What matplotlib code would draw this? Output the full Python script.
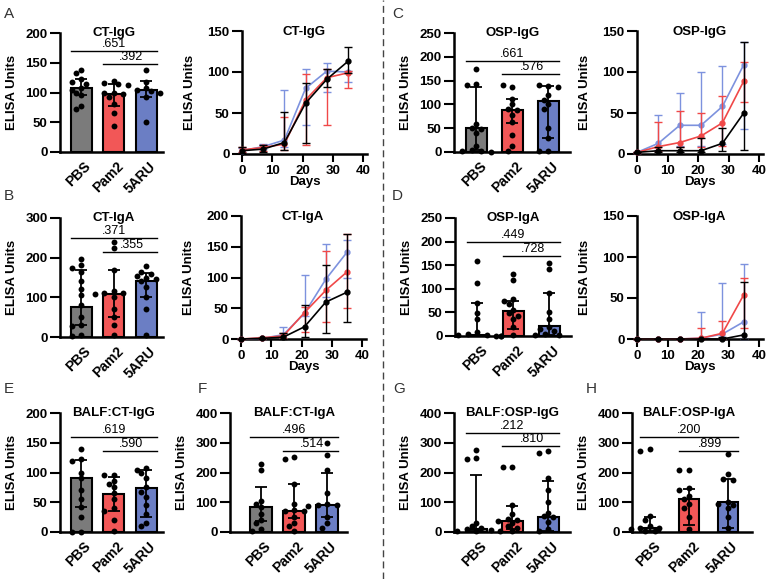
import numpy as np
import matplotlib.pyplot as plt
from matplotlib.lines import Line2D

plt.rcParams['font.family'] = ['Liberation Sans', 'DejaVu Sans']
plt.rcParams['font.size'] = 9

W, H = 770, 579

groups = ['PBS', 'Pam2', '5ARU']
bar_colors = ['#7b7b7b', '#f25757', '#6b7ec4']
line_colors = ['black', '#f04848', '#7d92de']
days = [0, 7, 14, 21, 28, 35]

# ---- bar panels: dots, median, IQR, p values ----
a_pts = [[138, 133, 122, 118, 115, 108, 105, 100, 95, 78, 72],
         [120, 116, 115, 113, 100, 99, 97, 92, 80, 65, 44],
         [137, 118, 108, 104, 102, 100, 93, 50]]
a_med = [107, 97, 105]
a_lo = [96, 77, 93]
a_hi = [122, 114, 119]
a_p = ['.651', '.392']

b_pts = [[197, 182, 175, 165, 140, 120, 105, 80, 50, 30, 28, 5, 2],
         [240, 225, 170, 115, 112, 110, 108, 100, 70, 50, 30, 5],
         [178, 165, 160, 155, 150, 145, 140, 125, 100, 70, 5]]
b_med = [75, 108, 140]
b_lo = [30, 50, 100]
b_hi = [170, 170, 162]
b_p = ['.371', '.355']

c_pts = [[175, 143, 140, 58, 50, 48, 40, 13, 5, 3, 2, 1],
         [137, 140, 112, 100, 90, 88, 77, 63, 35, 12, 2],
         [138, 140, 137, 120, 110, 100, 90, 50, 30, 2, 2]]
c_med = [50, 89, 108]
c_lo = [5, 60, 30]
c_hi = [137, 112, 138]
c_p = ['.661', '.576']

d_pts = [[158, 113, 70, 48, 36, 8, 5, 3, 2, 1, 0, 0],
         [131, 118, 78, 75, 68, 55, 48, 42, 35, 20, 2],
         [155, 143, 92, 50, 35, 20, 15, 10, 5, 3, 2]]
d_med = [3, 52, 22]
d_lo = [0, 14, 3]
d_hi = [70, 75, 92]
d_p = ['.449', '.728']

e_pts = [[140, 122, 120, 100, 90, 70, 55, 42, 25, 0, 0],
         [95, 95, 85, 80, 75, 65, 55, 40, 36, 20, 2],
         [108, 105, 100, 90, 75, 68, 58, 45, 30, 15, 10]]
e_med = [90, 64, 74]
e_lo = [42, 36, 26]
e_hi = [121, 92, 104]
e_p = ['.619', '.590']

f_pts = [[230, 210, 105, 95, 85, 60, 40, 30, 10, 2],
         [252, 245, 160, 95, 75, 72, 70, 50, 30, 20, 5],
         [298, 258, 210, 130, 95, 92, 90, 88, 50, 30, 15]]
f_med = [85, 72, 92]
f_lo = [38, 48, 50]
f_hi = [150, 160, 198]
f_p = ['.496', '.514']

g_pts = [[277, 250, 245, 30, 20, 15, 10, 8, 5, 3, 2],
         [218, 218, 90, 60, 45, 40, 38, 30, 20, 15, 5],
         [272, 265, 180, 140, 100, 65, 55, 50, 35, 10, 5]]
g_med = [10, 38, 50]
g_lo = [2, 10, 5]
g_hi = [192, 88, 172]
g_p = ['.212', '.810']

h_pts = [[280, 272, 55, 40, 20, 15, 12, 10, 5, 2],
         [208, 208, 148, 140, 120, 110, 95, 80, 50, 10],
         [262, 195, 178, 175, 100, 95, 90, 80, 50, 15]]
h_med = [15, 110, 100]
h_lo = [2, 25, 12]
h_hi = [52, 145, 178]
h_p = ['.200', '.899']

# ---- time course panels (PBS, Pam2, 5ARU) ----
a_mean = [[4, 6, 14, 62, 91, 113], [5, 8, 12, 66, 93, 99], [4, 9, 17, 80, 101, 100]]
a_low = [[1, 2, 5, 13, 82, 99], [2, 4, 5, 11, 35, 81], [2, 6, 9, 35, 76, 88]]
a_high = [[8, 11, 51, 86, 104, 130], [8, 11, 45, 98, 104, 101], [7, 12, 78, 104, 111, 101]]

b_mean = [[0, 1, 3, 20, 60, 76], [0, 2, 5, 43, 79, 109], [0, 1, 7, 42, 97, 141]]
b_low = [[0, 0, 0, 3, 9, 28], [0, 0, 1, 12, 28, 50], [0, 0, 2, 38, 68, 100]]
b_high = [[0, 2, 10, 55, 120, 170], [0, 3, 10, 52, 143, 170], [0, 2, 20, 104, 154, 161]]

c_mean = [[2, 4, 4, 4, 13, 50], [2, 9, 14, 22, 38, 89], [2, 13, 35, 35, 58, 109]]
c_low = [[1, 2, 2, 2, 4, 5], [1, 4, 8, 8, 10, 64], [1, 5, 10, 10, 12, 31]]
c_high = [[3, 8, 9, 20, 32, 137], [3, 39, 52, 50, 71, 112], [3, 48, 75, 100, 107, 137]]

d_mean = [[0, 0, 0, 0, 0, 5], [0, 0, 0, 1, 7, 54], [0, 0, 0, 1, 6, 21]]
d_low = [[0, 0, 0, 0, 0, 0], [0, 0, 0, 0, 0, 14], [0, 0, 0, 0, 0, 0]]
d_high = [[0, 0, 0, 0, 2, 70], [0, 0, 0, 14, 22, 75], [0, 0, 0, 33, 68, 92]]


fig = plt.figure(figsize=(W / 100, H / 100), dpi=100)


def box(x0, y0, x1, y1):
    return [x0 / W, 1 - y1 / H, (x1 - x0) / W, (y1 - y0) / H]


def style(ax, pad_label):
    for s in ['top', 'right']:
        ax.spines[s].set_visible(False)
    for s in ['left', 'bottom']:
        ax.spines[s].set_linewidth(1.8)
    ax.tick_params(axis='y', length=7, width=1.5, pad=2, labelsize=9.5)
    ax.set_ylabel('ELISA Units', fontweight='bold', fontsize=9.5, labelpad=pad_label)
    for t in ax.get_yticklabels():
        t.set_fontweight('bold')


def swarm(vals, xppu, yppu, d=5.6):
    placed, offs = [], []
    for v in vals:
        y = v * yppu
        for k in [0, -1, 1, -2, 2, -3, 3, -4, 4, -5, 5]:
            x = k * d * 0.85
            if all((x - px) ** 2 + (y - py) ** 2 >= d * d for px, py in placed):
                break
        placed.append((x, y))
        offs.append(x / xppu)
    return offs


def bar_panel(px, title, pts, med, lo, hi, pv, plines, ymax, step, xlim, w):
    ax = fig.add_axes(box(*px))
    x = np.arange(3)
    ax.bar(x, med, w, color=bar_colors, edgecolor='black', linewidth=1.5, zorder=2)
    med_a = np.array(med)
    ax.errorbar(x, med, yerr=[med_a - np.array(lo), np.array(hi) - med_a], fmt='none',
                ecolor='black', elinewidth=1.3, capsize=4.5, capthick=1.3, zorder=3)
    xppu = (px[2] - px[0]) / (xlim[1] - xlim[0])
    yppu = (px[3] - px[1]) / ymax
    for i, vals in enumerate(pts):
        offs = swarm(vals, xppu, yppu)
        ax.scatter(i + np.array(offs), vals, s=18, color='black', zorder=4, clip_on=False,
                   linewidths=0)
    ax.plot([x[0] - w / 2, x[2] + w / 2], [plines[0]] * 2, color='black', lw=1)
    ax.plot([x[1] - w / 2, x[2] + w / 2], [plines[1]] * 2, color='black', lw=1)
    ax.text((x[0] + x[2]) / 2, plines[0] + ymax * 0.01, pv[0], ha='center', va='bottom', fontsize=9)
    ax.text((x[1] + x[2]) / 2 + 0.05, plines[1] + ymax * 0.01, pv[1],
            ha='center', va='bottom', fontsize=9)
    ax.text(1, ymax, title, ha='center', va='center', fontweight='bold', fontsize=9.5)
    ax.set_xlim(*xlim)
    ax.set_ylim(0, ymax)
    ax.set_yticks(np.arange(0, ymax + 1, step))
    ax.set_xticks(x + 0.08)
    ax.set_xticklabels(groups, rotation=45, ha='right', rotation_mode='anchor',
                       fontweight='bold', fontsize=10)
    ax.tick_params(axis='x', length=0, pad=5)
    style(ax, 5)
    return ax


def line_panel(px, title, mean, low, high, ymax, step):
    ax = fig.add_axes(box(*px))
    for i in [2, 1, 0]:
        m = np.array(mean[i])
        ax.errorbar(days, m, yerr=[m - np.array(low[i]), np.array(high[i]) - m],
                    color=line_colors[i], marker='o', ms=3.5, lw=1.2, elinewidth=1,
                    capsize=3, capthick=1, clip_on=False, zorder=3 + (2 - i))
    ax.text(20.5, ymax * 0.99, title, ha='center', va='center', fontweight='bold', fontsize=9.5)
    ax.set_xlim(0, 41.3)
    ax.set_ylim(0, ymax)
    ax.set_xticks([0, 10, 20, 30, 40])
    ax.set_yticks(np.arange(0, ymax + 1, step))
    ax.tick_params(axis='x', length=6, width=1.5, pad=2, labelsize=9.5)
    for t in ax.get_xticklabels():
        t.set_fontweight('bold')
    ax.set_xlabel('Days', fontweight='bold', fontsize=9.5, labelpad=-1)
    style(ax, 8)
    return ax


wide = (-0.65, 2.52)
mid = (-0.62, 2.6)

bar_panel((60, 33, 163, 152), 'CT-IgG', a_pts, a_med, a_lo, a_hi, a_p, [169, 148], 200, 50, wide, 0.65)
line_panel((242, 31, 367, 154), 'CT-IgG', a_mean, a_low, a_high, 150, 50)
bar_panel((454, 33, 570, 152), 'OSP-IgG', c_pts, c_med, c_lo, c_hi, c_p, [191, 164], 250, 50, mid, 0.6)
line_panel((637, 31, 763, 154), 'OSP-IgG', c_mean, c_low, c_high, 150, 50)

bar_panel((60, 218, 163, 337), 'CT-IgA', b_pts, b_med, b_lo, b_hi, b_p, [249, 215], 300, 100, wide, 0.65)
line_panel((241, 216, 366, 339), 'CT-IgA', b_mean, b_low, b_high, 200, 50)
bar_panel((455, 218, 571, 336), 'OSP-IgA', d_pts, d_med, d_lo, d_hi, d_p, [199, 169], 250, 50, mid, 0.6)
line_panel((637, 216, 763, 339), 'OSP-IgA', d_mean, d_low, d_high, 150, 50)

bar_panel((60, 413, 163, 532), 'BALF:CT-IgG', e_pts, e_med, e_lo, e_hi, e_p, [159, 136], 200, 50, wide, 0.65)
bar_panel((230, 413, 347, 532), 'BALF:CT-IgA', f_pts, f_med, f_lo, f_hi, f_p, [319, 271], 400, 100, (-0.94, 2.6), 0.65)
bar_panel((454, 413, 570, 532), 'BALF:OSP-IgG', g_pts, g_med, g_lo, g_hi, g_p, [333, 289], 400, 100, mid, 0.6)
bar_panel((632, 413, 752, 532), 'BALF:OSP-IgA', h_pts, h_med, h_lo, h_hi, h_p, [319, 273], 400, 100, (-0.46, 2.62), 0.52)

# panel letters
for lab, (lx, ly) in zip('ABCDEFGH', [(4, 7), (4, 189), (392, 7), (392, 189),
                                       (4, 382), (198, 382), (393, 382), (586, 382)]):
    fig.text(lx / W, 1 - ly / H, lab, ha='left', va='top', fontsize=11, color='#333333')

fig.add_artist(Line2D([383 / W, 383 / W], [0, 1], ls=(0, (5, 3)), color='#444444', lw=1))

fig.savefig('out.png', dpi=100)
